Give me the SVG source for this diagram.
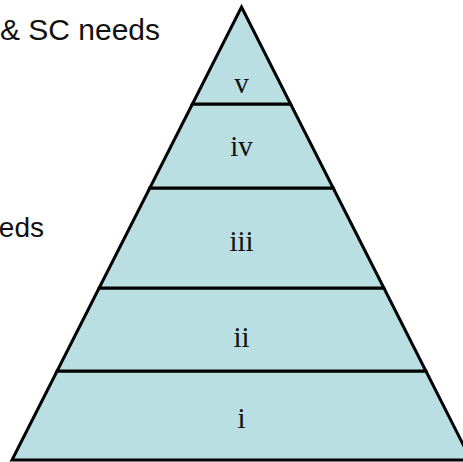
<svg xmlns="http://www.w3.org/2000/svg" width="463" height="462" viewBox="0 0 463 462">
<style>
.layer{fill:#b9dfe3;stroke:#000;stroke-width:3;stroke-linejoin:miter}
.lbl{font-family:"Liberation Serif","Times New Roman",serif;font-size:29px;fill:#111;text-anchor:middle}
.side{font-family:"Liberation Sans",Arial,sans-serif;font-size:30px;fill:#111;text-anchor:end}
</style>
<rect width="463" height="462" fill="#fff"/>
<text class="side" x="160" y="40">&amp; SC needs</text>
<text class="side" x="44" y="237" style="font-size:28px">eds</text>
<g id="layer-i">
<polygon class="layer" points="57.1,371 425.9,371 471,460 12,460"/>
<text class="lbl" x="241.5" y="428">i</text>
</g>
<g id="layer-ii">
<polygon class="layer" points="99.1,288 383.9,288 425.9,371 57.1,371"/>
<text class="lbl" x="241.5" y="347">ii</text>
</g>
<g id="layer-iii">
<polygon class="layer" points="149.8,188 333.2,188 383.9,288 99.1,288"/>
<text class="lbl" x="241.5" y="251">iii</text>
</g>
<g id="layer-iv">
<polygon class="layer" points="192.4,104 290.6,104 333.2,188 149.8,188"/>
<text class="lbl" x="241.5" y="156">iv</text>
</g>
<g id="layer-v">
<polygon class="layer" points="241.5,7 290.6,104 192.4,104"/>
<text class="lbl" x="241.5" y="93">v</text>
</g>
<g id="connectors"/>
</svg>
